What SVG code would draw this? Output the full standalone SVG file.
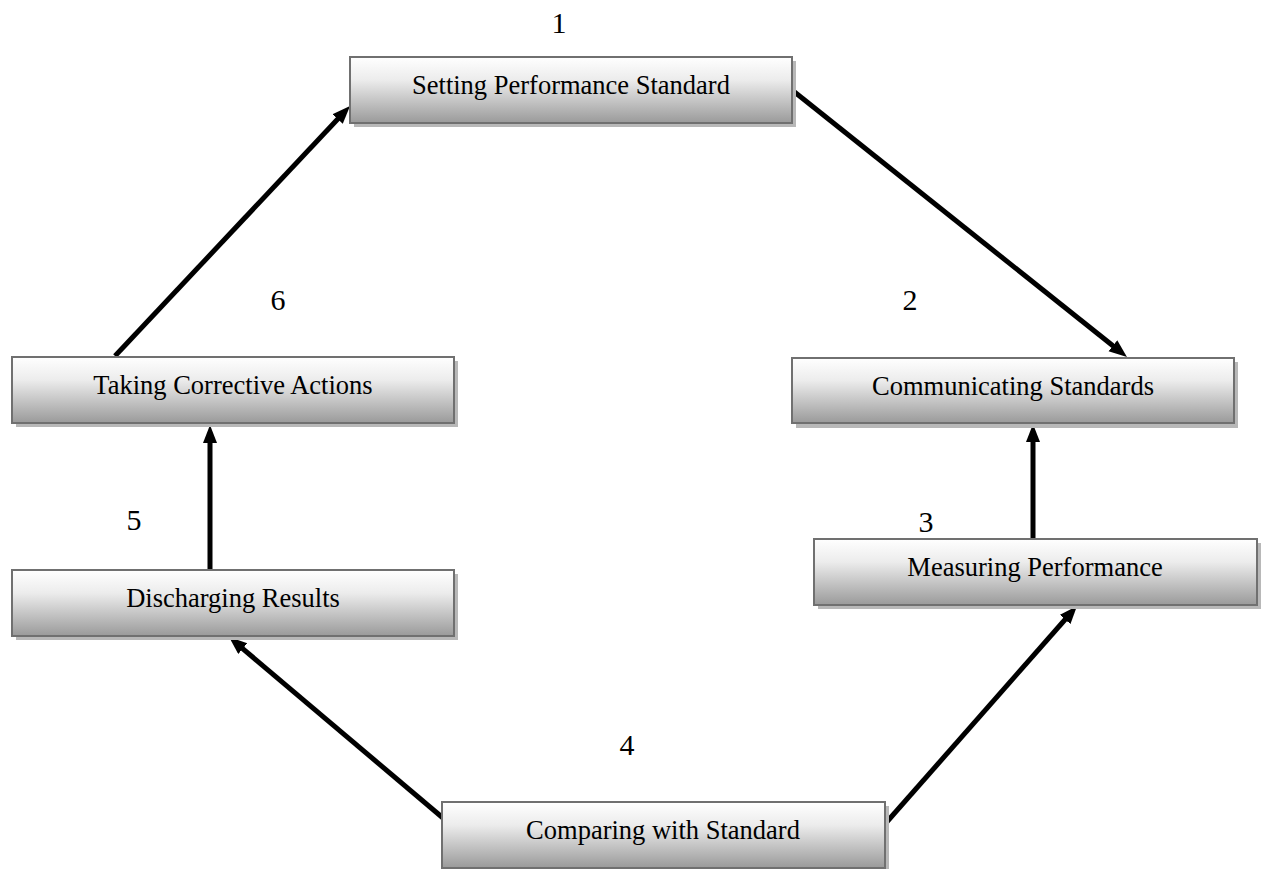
<svg xmlns="http://www.w3.org/2000/svg" width="1261" height="869" viewBox="0 0 1261 869">
<style>
.box{fill:url(#g);stroke:#707070;stroke-width:2}
.sh{fill:#b8b8b8}
.lbl{font-family:"Liberation Serif","Times New Roman",serif;font-size:26.5px;fill:#000;text-anchor:middle}
.num{font-family:"Liberation Serif","Times New Roman",serif;font-size:30px;fill:#000;text-anchor:middle}
.arr{stroke:#000;stroke-width:5;fill:none;marker-end:url(#ah)}
</style>
<defs>
<linearGradient id="g" x1="0" y1="0" x2="0" y2="1">
<stop offset="0" stop-color="#ffffff"/>
<stop offset="0.35" stop-color="#ececec"/>
<stop offset="1" stop-color="#9a9a9a"/>
</linearGradient>
<marker id="ah" markerUnits="userSpaceOnUse" markerWidth="20" markerHeight="16" refX="6" refY="7" orient="auto">
<path d="M0,0 L18,7 L0,14 z" fill="#000"/>
</marker>
</defs>
<rect width="1261" height="869" fill="#fff"/>
<g id="connectors">
<line class="arr" x1="115" y1="356" x2="341.8" y2="114.7"/>
<line class="arr" x1="792" y1="90" x2="1117.6" y2="349.5"/>
<line class="arr" x1="1033" y1="539" x2="1033" y2="436"/>
<line class="arr" x1="885" y1="824" x2="1069.1" y2="615"/>
<line class="arr" x1="443" y1="818" x2="238.2" y2="644.8"/>
<line class="arr" x1="210" y1="569" x2="210" y2="437"/>
</g>
<g id="n1">
<rect class="sh" x="354" y="61" width="442" height="66"/>
<rect class="box" x="350" y="57" width="442" height="66"/>
<text class="lbl" x="571" y="94">Setting Performance Standard</text>
</g>
<g id="n2">
<rect class="sh" x="796" y="362" width="442" height="66"/>
<rect class="box" x="792" y="358" width="442" height="65"/>
<text class="lbl" x="1013" y="395">Communicating Standards</text>
</g>
<g id="n3">
<rect class="sh" x="818" y="543" width="443" height="66"/>
<rect class="box" x="814" y="539" width="443" height="66"/>
<text class="lbl" x="1035" y="576">Measuring Performance</text>
</g>
<g id="n4">
<rect class="sh" x="446" y="806" width="443" height="66"/>
<rect class="box" x="442" y="802" width="443" height="66"/>
<text class="lbl" x="663" y="839">Comparing with Standard</text>
</g>
<g id="n5">
<rect class="sh" x="16" y="574" width="442" height="66"/>
<rect class="box" x="12" y="570" width="442" height="66"/>
<text class="lbl" x="233" y="607">Discharging Results</text>
</g>
<g id="n6">
<rect class="sh" x="16" y="361" width="442" height="66"/>
<rect class="box" x="12" y="357" width="442" height="66"/>
<text class="lbl" x="233" y="394">Taking Corrective Actions</text>
</g>
<g id="numbers">
<text class="num" x="559" y="33">1</text>
<text class="num" x="910" y="310">2</text>
<text class="num" x="926" y="532">3</text>
<text class="num" x="627" y="755">4</text>
<text class="num" x="134" y="530">5</text>
<text class="num" x="278" y="310">6</text>
</g>
</svg>
